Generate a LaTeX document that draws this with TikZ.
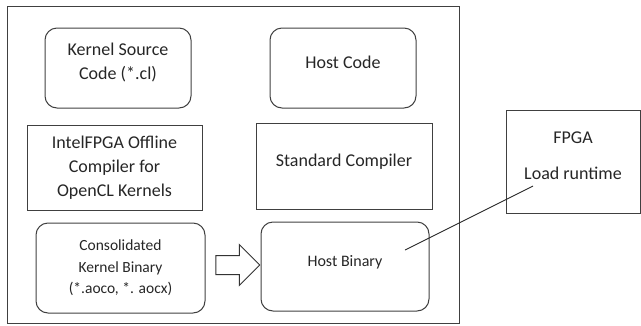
\documentclass[tikz,border=0pt]{standalone}
\usepackage{fontspec}
\setmainfont{Carlito}
\usetikzlibrary{shapes.arrows}

\tikzset{
    srcbox/.style={draw=black!75, line width=1pt, rounded corners=12pt, align=center,
        font=\fontsize{18}{24}\selectfont, text=black!85},
    compbox/.style={draw=black!75, line width=1pt, align=center,
        font=\fontsize{18}{24}\selectfont, text=black!85},
    binbox/.style={draw=black!75, line width=1pt, rounded corners=12pt, align=center,
        font=\fontsize{15.5}{21.5}\selectfont, text=black!85},
    blockarrow/.style={single arrow, draw=black!80, line width=1pt, minimum height=44pt,
        single arrow head extend=11pt, inner sep=0pt, inner ysep=9pt}
}

\begin{document}
\begin{tikzpicture}[x=1pt, y=-1pt]
    \useasboundingbox (0,0) rectangle (641,325);

    % Host side frame
    \draw[black!75, line width=1pt] (7,6) rectangle (459,323);

    % Sources
    \node[srcbox, minimum width=146pt, minimum height=80pt] (ksrc) at (118,68)
        {Kernel Source\\Code (*.cl)\\[-10pt]};
    \node[srcbox, minimum width=146pt, minimum height=80pt] (hcode) at (343,68)
        {Host Code\\[-12pt]};

    % Compilers
    \node[compbox, minimum width=175pt, minimum height=85pt] (aoc) at (114.5,167.5)
        {IntelFPGA Offline\\Compiler for\\OpenCL Kernels};
    \node[compbox, minimum width=176pt, minimum height=86pt] (stdc) at (344,166)
        {Standard Compiler\\[-12pt]};

    % Binaries
    \node[binbox, minimum width=169pt, minimum height=90pt] (kbin) at (120.5,268)
        {Consolidated\\Kernel Binary\\(*.aoco, *. aocx)};
    \node[binbox, minimum width=168pt, minimum height=89pt, font=\fontsize{16}{21.5}\selectfont]
        (hbin) at (345,266.5) {Host Binary\\[-9.5pt]};
    \node[blockarrow] (push) at (233,265) {};

    % Device
    \node[compbox, minimum width=134pt, minimum height=103pt] (fpga) at (573,161.5)
        {FPGA\\[12pt]Load runtime\\[-12pt]};

    \coordinate (hbinpt) at (405,250);
    \coordinate (fpgapt) at (533,186);
    \draw[black!85, line width=0.9pt] (hbinpt) -- (fpgapt);
\end{tikzpicture}
\end{document}
